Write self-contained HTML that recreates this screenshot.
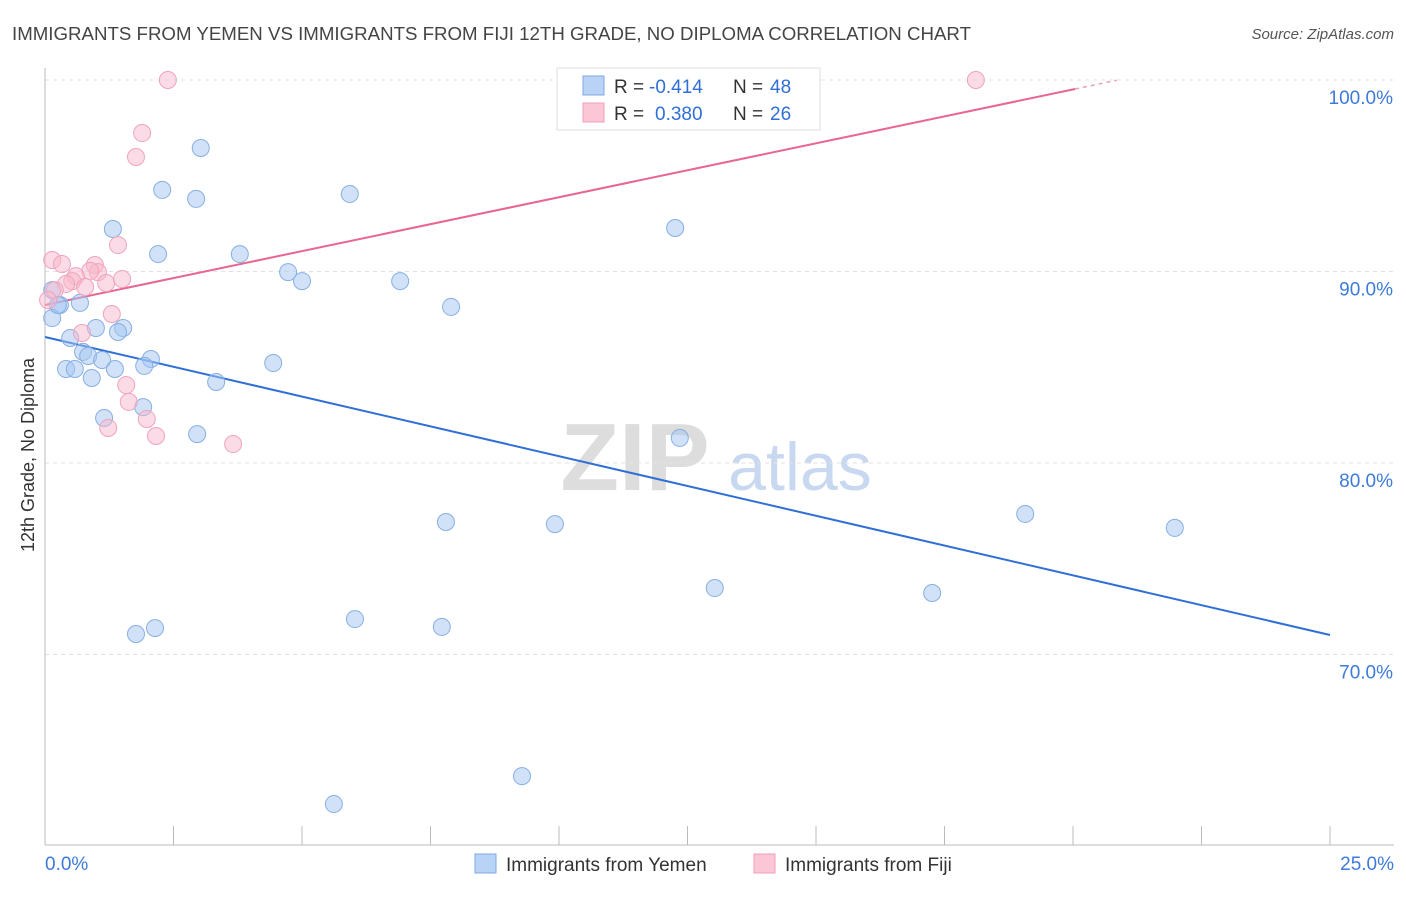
<!DOCTYPE html>
<html><head><meta charset="utf-8"><style>
body{margin:0;background:#fff;font-family:"Liberation Sans",sans-serif;}
svg text{font-family:"Liberation Sans",sans-serif;}
</style></head><body>
<svg id="chart" width="1406" height="892" viewBox="0 0 1406 892" xmlns="http://www.w3.org/2000/svg">
<text x="12" y="40" font-size="18" fill="#444" textLength="959" lengthAdjust="spacingAndGlyphs">IMMIGRANTS FROM YEMEN VS IMMIGRANTS FROM FIJI 12TH GRADE, NO DIPLOMA CORRELATION CHART</text>
<text x="1394" y="39" font-size="15" fill="#555" text-anchor="end" font-style="italic">Source: ZipAtlas.com</text>
<g>
<text x="635" y="490" font-size="96" fill="#ddd" text-anchor="middle" font-family="Liberation Serif" font-weight="bold">ZIP</text>
<text x="800" y="490" font-size="68" fill="#c8d8f0" text-anchor="middle">atlas</text>
</g>
<g id="grid"></g>
<g id="axes"></g>
<g id="lines"></g>
<g id="points"></g>
<text transform="translate(34,455) rotate(-90)" font-size="18" fill="#333" text-anchor="middle">12th Grade, No Diploma</text>
<g>
<rect x="557" y="68" width="263" height="62" fill="#fff" stroke="#ddd"/>
<rect x="583" y="76" width="21" height="19" fill="#b8d3f5" stroke="#7fa8e0"/>
<rect x="583" y="103" width="21" height="19" fill="#fbc6d6" stroke="#f0a0b8"/>
<text x="614" y="93" font-size="19" fill="#333">R =</text>
<text x="649" y="93" font-size="19" fill="#2f6fd6">-0.414</text>
<text x="733" y="93" font-size="19" fill="#333">N =</text>
<text x="770" y="93" font-size="19" fill="#2f6fd6">48</text>
<text x="614" y="120" font-size="19" fill="#333">R =</text>
<text x="655" y="120" font-size="19" fill="#2f6fd6">0.380</text>
<text x="733" y="120" font-size="19" fill="#333">N =</text>
<text x="770" y="120" font-size="19" fill="#2f6fd6">26</text>
</g>
<g>
<rect x="475" y="854" width="21" height="19" fill="#b8d3f5" stroke="#7fa8e0"/>
<text x="506" y="871" font-size="19" fill="#333">Immigrants from Yemen</text>
<rect x="754" y="854" width="21" height="19" fill="#fbc6d6" stroke="#f0a0b8"/>
<text x="785" y="871" font-size="19" fill="#333">Immigrants from Fiji</text>
</g>
</svg>
<script>
const yTicks=[100,90,80,70];
const xTickLabels=["0.0%","25.0%"];
const blueX=[3.03,2.28,2.94,5.93,1.32,2.20,3.79,12.26,4.73,5.00,6.91,7.90,0.14,0.29,0.68,0.14,0.99,1.52,1.42,0.49,0.74,0.84,1.11,2.06,1.36,1.93,0.41,0.58,0.91,4.44,3.33,1.91,1.15,2.96,12.35,7.80,9.92,19.07,21.98,13.03,17.26,6.03,7.72,1.77,2.14,9.28,5.62,0.25];
const blueY=[96.45,94.26,93.79,94.05,92.22,90.91,90.91,92.27,89.97,89.50,89.50,88.15,89.03,88.25,88.36,87.57,87.05,87.05,86.84,86.53,85.80,85.59,85.38,85.43,84.91,85.07,84.91,84.91,84.44,85.22,84.23,82.92,82.35,81.51,81.31,76.92,76.81,77.34,76.61,73.47,73.21,71.85,71.44,71.07,71.38,63.65,62.19,88.25];
const pinkX=[2.39,18.11,1.89,1.77,1.42,0.14,0.33,0.97,1.03,0.88,0.60,0.53,0.41,0.78,1.19,1.50,0.19,1.30,0.72,1.58,1.63,1.98,1.23,2.16,3.66,0.06];
const pinkY=[100,100,97.23,95.98,91.38,90.60,90.39,90.34,89.97,90.03,89.76,89.50,89.35,89.19,89.40,89.61,89.03,87.78,86.79,84.07,83.19,82.30,81.83,81.41,80.99,88.51];
const blueLine=[86.58,71.02]; // y at x=0 and x=25
const pinkLine=[88.25,99.53,20.04,20.85]; // y at 0, y at solidEnd, solidEnd x, dashEnd x
const NS="http://www.w3.org/2000/svg";
const xs=v=>45+v/25*1285;
const ys=v=>80+(100-v)*19.15;
function mk(tag,attrs,parent){const e=document.createElementNS(NS,tag);for(const k in attrs)e.setAttribute(k,attrs[k]);parent.appendChild(e);return e;}
const grid=document.getElementById('grid'),axes=document.getElementById('axes'),lines=document.getElementById('lines'),pts=document.getElementById('points');
yTicks.forEach(t=>{
 const l=mk('line',{x1:45,x2:1394,y1:ys(t),y2:ys(t),stroke:'#e2e2e2','stroke-dasharray':'4,4'},grid);
 
 
 const tx=mk('text',{x:1393,y:ys(t)+24,'font-size':19,fill:'#3d7bd9','text-anchor':'end'},grid);
 tx.textContent=t.toFixed(1)+'%';
 
 
});
const ax=mk('line',{x1:45,x2:45,y1:68,y2:845,stroke:'#bbb'},axes);


const bx=mk('line',{x1:45,x2:1394,y1:845,y2:845,stroke:'#bbb'},axes);


for(let i=0;i<=10;i++){
 const t=mk('line',{x1:xs(i*2.5),x2:xs(i*2.5),y1:826,y2:845,stroke:'#bbb'},axes);
 
 
}
[[0,'start',45],[25,'end',1394]].forEach((d,i)=>{
 const t=mk('text',{x:d[2],y:870,'font-size':19,fill:'#3d7bd9','text-anchor':d[1]},axes);
 t.textContent=xTickLabels[i];
 
 
});
const bl=mk('line',{x1:xs(0),y1:ys(blueLine[0]),x2:xs(25),y2:ys(blueLine[1]),stroke:'#2f6fd6','stroke-width':2},lines);


const slope=(pinkLine[1]-pinkLine[0])/pinkLine[2];
const pl=mk('line',{x1:xs(0),y1:ys(pinkLine[0]),x2:xs(pinkLine[2]),y2:ys(pinkLine[1]),stroke:'#e8668f','stroke-width':2},lines);


const pd=mk('line',{x1:xs(pinkLine[2]),y1:ys(pinkLine[1]),x2:xs(pinkLine[3]),y2:ys(pinkLine[0]+slope*pinkLine[3]),stroke:'#e8a0b8','stroke-width':1.5,'stroke-dasharray':'4,4'},lines);


blueX.forEach((x,i)=>{
 const c=mk('circle',{cx:xs(x),cy:ys(blueY[i]),r:8.5,fill:'rgba(164,198,242,0.5)',stroke:'#86afe3','stroke-width':1},pts);
 
 
});
pinkX.forEach((x,i)=>{
 const c=mk('circle',{cx:xs(x),cy:ys(pinkY[i]),r:8.5,fill:'rgba(248,184,204,0.5)',stroke:'#f0a4bc','stroke-width':1},pts);
 
 
});
</script>
</body></html>
